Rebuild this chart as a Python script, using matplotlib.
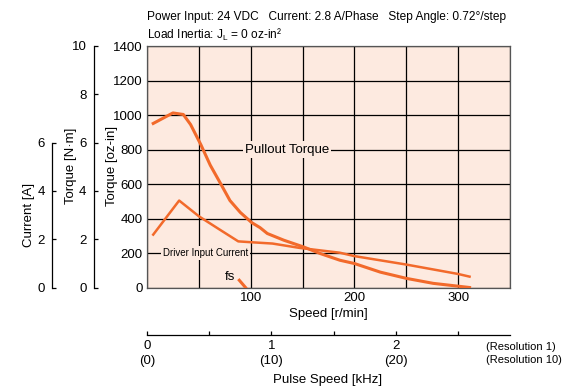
import matplotlib
matplotlib.use('Agg')

import matplotlib.pyplot as plt

plt.rcParams['font.family'] = ['Liberation Sans', 'DejaVu Sans']

# pullout torque [r/min, oz-in]
torque_speed = [6, 25, 35, 42, 52, 61, 71, 80, 90, 101, 109, 116, 132, 151, 167, 186, 200, 225, 250, 276, 311]
torque_ozin = [951, 1012, 1003, 945, 827, 709, 602, 504, 435, 376, 347, 313, 274, 235, 197, 158, 139, 89, 53, 24, 0]

# driver input current [r/min, A]
current_speed = [6, 31, 50, 70, 88, 102, 121, 147, 186, 200, 250, 300, 311]
current_amp = [2.19, 3.60, 2.95, 2.40, 1.91, 1.87, 1.82, 1.64, 1.44, 1.30, 0.95, 0.56, 0.45]

# starting pulse frequency marker
fs_speed = [89, 95]
fs_ozin = [42, 0]

speed_labels = {100: '100', 200: '200', 300: '300'}
ozin_ticks = [0, 200, 400, 600, 800, 1000, 1200, 1400]
nm_ticks = [0, 2, 4, 6, 8, 10]
amp_ticks = [0, 2, 4, 6]
pulse_ticks = [0, 0.5, 1, 1.5, 2, 2.5]
pulse_labels = {0: '0\n(0)', 1: '1\n(10)', 2: '2\n(20)'}

orange = '#f26a2b'
peach = '#fdeae0'
fs_ = 9.5

W, H = 565, 389
fig = plt.figure(figsize=(W / 100, H / 100), dpi=100)

left, right, bottom, top = 147, 510, 287.5, 46
ax = fig.add_axes([left / W, 1 - bottom / H, (right - left) / W, (bottom - top) / H])
ax.set_facecolor(peach)
ax.set_xlim(0, 350)
ax.set_ylim(0, 1400)
ax.set_xticks(range(0, 351, 50))
ax.set_xticklabels([speed_labels.get(v, '') for v in range(0, 351, 50)])
ax.set_yticks(ozin_ticks)
ax.tick_params(length=0, labelsize=fs_, pad=3)
ax.grid(color='black', linewidth=0.9)
ax.set_axisbelow(True)
for s in ax.spines.values():
    s.set_color('#555555')
    s.set_linewidth(0.9)
ax.set_xlabel('Speed [r/min]', fontsize=fs_, labelpad=3)

ax.plot(torque_speed, torque_ozin, color=orange, lw=2.2, solid_joinstyle='round', zorder=3)
ax.plot(fs_speed, fs_ozin, color=orange, lw=2.2, zorder=3)

cur = ax.twinx()
cur.set_ylim(0, 10)
cur.axis('off')
cur.plot(current_speed, current_amp, color=orange, lw=1.8, solid_joinstyle='round', zorder=3)

ax.text(135, 800, 'Pullout Torque', fontsize=fs_, ha='center', va='center',
        bbox=dict(facecolor=peach, edgecolor='none', pad=1.5), zorder=4)
ax.text(15, 200, 'Driver Input Current', fontsize=7, ha='left', va='center',
        bbox=dict(facecolor=peach, edgecolor='none', pad=1.5), zorder=4)
ax.text(80, 58, 'fs', fontsize=fs_, ha='center', va='center', zorder=4)

# extra left scales
def side_axis(xpix, ticks, top_val):
    a = fig.add_axes([xpix / W, 1 - bottom / H, 0.001, (bottom - top) / H])
    a.set_ylim(0, 10)
    a.patch.set_visible(False)
    for k in ['top', 'right', 'bottom']:
        a.spines[k].set_visible(False)
    a.spines['left'].set_bounds(0, top_val)
    a.spines['left'].set_linewidth(0.9)
    a.set_xticks([])
    a.set_yticks(ticks)
    a.tick_params(axis='y', direction='in', length=3, width=0.9, labelsize=fs_, pad=5)
    return a

side_axis(93.5, nm_ticks, 10)
side_axis(52, amp_ticks, 6)
fig.text(71 / W, 1 - 166 / H, 'Torque [N·m]', rotation=90, ha='center', va='center', fontsize=fs_)
fig.text(112 / W, 1 - 166 / H, 'Torque [oz-in]', rotation=90, ha='center', va='center', fontsize=fs_)
fig.text(29 / W, 1 - 215 / H, 'Current [A]', rotation=90, ha='center', va='center', fontsize=fs_)

# pulse speed axis
pa = fig.add_axes([left / W, 1 - 334.5 / H, (right - left) / W, 0.001])
pa.set_xlim(0, 350 / 120)
pa.patch.set_visible(False)
for k in ['top', 'right', 'left']:
    pa.spines[k].set_visible(False)
pa.spines['bottom'].set_linewidth(0.9)
pa.set_yticks([])
pa.set_xticks(pulse_ticks)
pa.set_xticklabels([pulse_labels.get(v, '') for v in pulse_ticks], linespacing=1.3)
pa.tick_params(axis='x', direction='in', length=3, width=0.9, labelsize=fs_, pad=4)
fig.text(486 / W, 1 - 353.5 / H, '(Resolution 1)\n(Resolution 10)', fontsize=8,
         ha='left', va='center', linespacing=1.4)
fig.text(328 / W, 1 - 380 / H, 'Pulse Speed [kHz]', fontsize=fs_, ha='center', va='center')

fig.text(147 / W, 1 - 17 / H,
         'Power Input: 24 VDC   Current: 2.8 A/Phase   Step Angle: 0.72°/step',
         fontsize=8.6, ha='left', va='center')
fig.text(147 / W, 1 - 35 / H, 'Load Inertia: J$_\\mathregular{L}$ = 0 oz-in²',
         fontsize=8.6, ha='left', va='center')

fig.savefig('out.png', dpi=100)
